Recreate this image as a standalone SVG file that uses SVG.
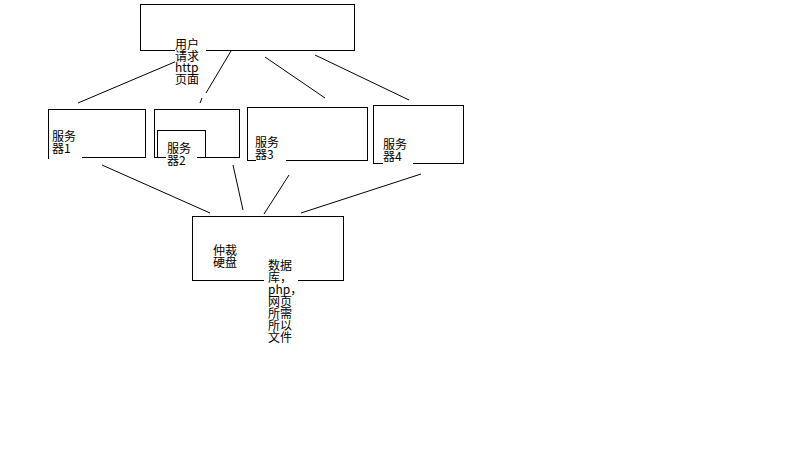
<svg xmlns="http://www.w3.org/2000/svg" width="800" height="450" viewBox="0 0 800 450">
<style>
.box{fill:none;stroke:#000;stroke-width:1}
.bg{fill:#fff}
.c line{stroke:#000;stroke-width:1}
text{font-family:"Noto Sans CJK SC","DejaVu Sans",sans-serif;font-size:12px;fill:#000}
</style>
<rect width="800" height="450" fill="#fff"/>
<g class="c" id="connectors">
<line x1="78" y1="103" x2="177" y2="61"/>
<line x1="231" y1="51" x2="206" y2="93"/>
<line x1="202" y1="98" x2="200" y2="103"/>
<line x1="265" y1="57" x2="325" y2="98"/>
<line x1="315" y1="55" x2="409" y2="100"/>
<line x1="102" y1="165" x2="210" y2="213"/>
<line x1="233" y1="165" x2="243" y2="210"/>
<line x1="289" y1="175" x2="264" y2="214"/>
<line x1="421" y1="174" x2="301" y2="213"/>
</g>
<g id="top">
<rect class="box" x="140.5" y="4.5" width="214" height="46"/>
<rect class="bg" x="175" y="36" width="31" height="51"/>
<text x="175" y="49">用户</text>
<text x="175" y="61">请求</text>
<text x="175" y="72">http</text>
<text x="175" y="84">页面</text>
</g>
<g id="server1">
<rect class="box" x="48.5" y="109.5" width="97" height="48"/>
<rect class="bg" x="49" y="128" width="33" height="35"/>
<line x1="48.5" y1="157" x2="48.5" y2="159" stroke="#000"/>
<text x="52" y="141">服务</text>
<text x="52" y="153">器1</text>
</g>
<g id="server2">
<rect class="box" x="154.5" y="109.5" width="85" height="48"/>
<rect class="box" x="157.5" y="130.5" width="48" height="27"/>
<rect class="bg" x="166" y="141" width="31" height="28"/>
<text x="167" y="153">服务</text>
<text x="167" y="165">器2</text>
</g>
<g id="server3">
<rect class="box" x="247.5" y="107.5" width="120" height="53"/>
<rect class="bg" x="256" y="132" width="30" height="31"/>
<text x="255" y="147">服务</text>
<text x="255" y="159">器3</text>
</g>
<g id="server4">
<rect class="box" x="373.5" y="105.5" width="90" height="58"/>
<rect class="bg" x="383" y="135" width="30" height="31"/>
<text x="383" y="149">服务</text>
<text x="383" y="161">器4</text>
</g>
<g id="storage">
<rect class="box" x="192.5" y="216.5" width="151" height="64"/>
<text x="213" y="255">仲裁</text>
<text x="213" y="267">硬盘</text>
<rect class="bg" x="264" y="258" width="34" height="88"/>
<text x="268" y="270">数据</text>
<text x="268" y="282">库，</text>
<text x="268" y="294">php，</text>
<text x="268" y="306">网页</text>
<text x="268" y="318">所需</text>
<text x="268" y="330">所以</text>
<text x="268" y="342">文件</text>
</g>
</svg>
